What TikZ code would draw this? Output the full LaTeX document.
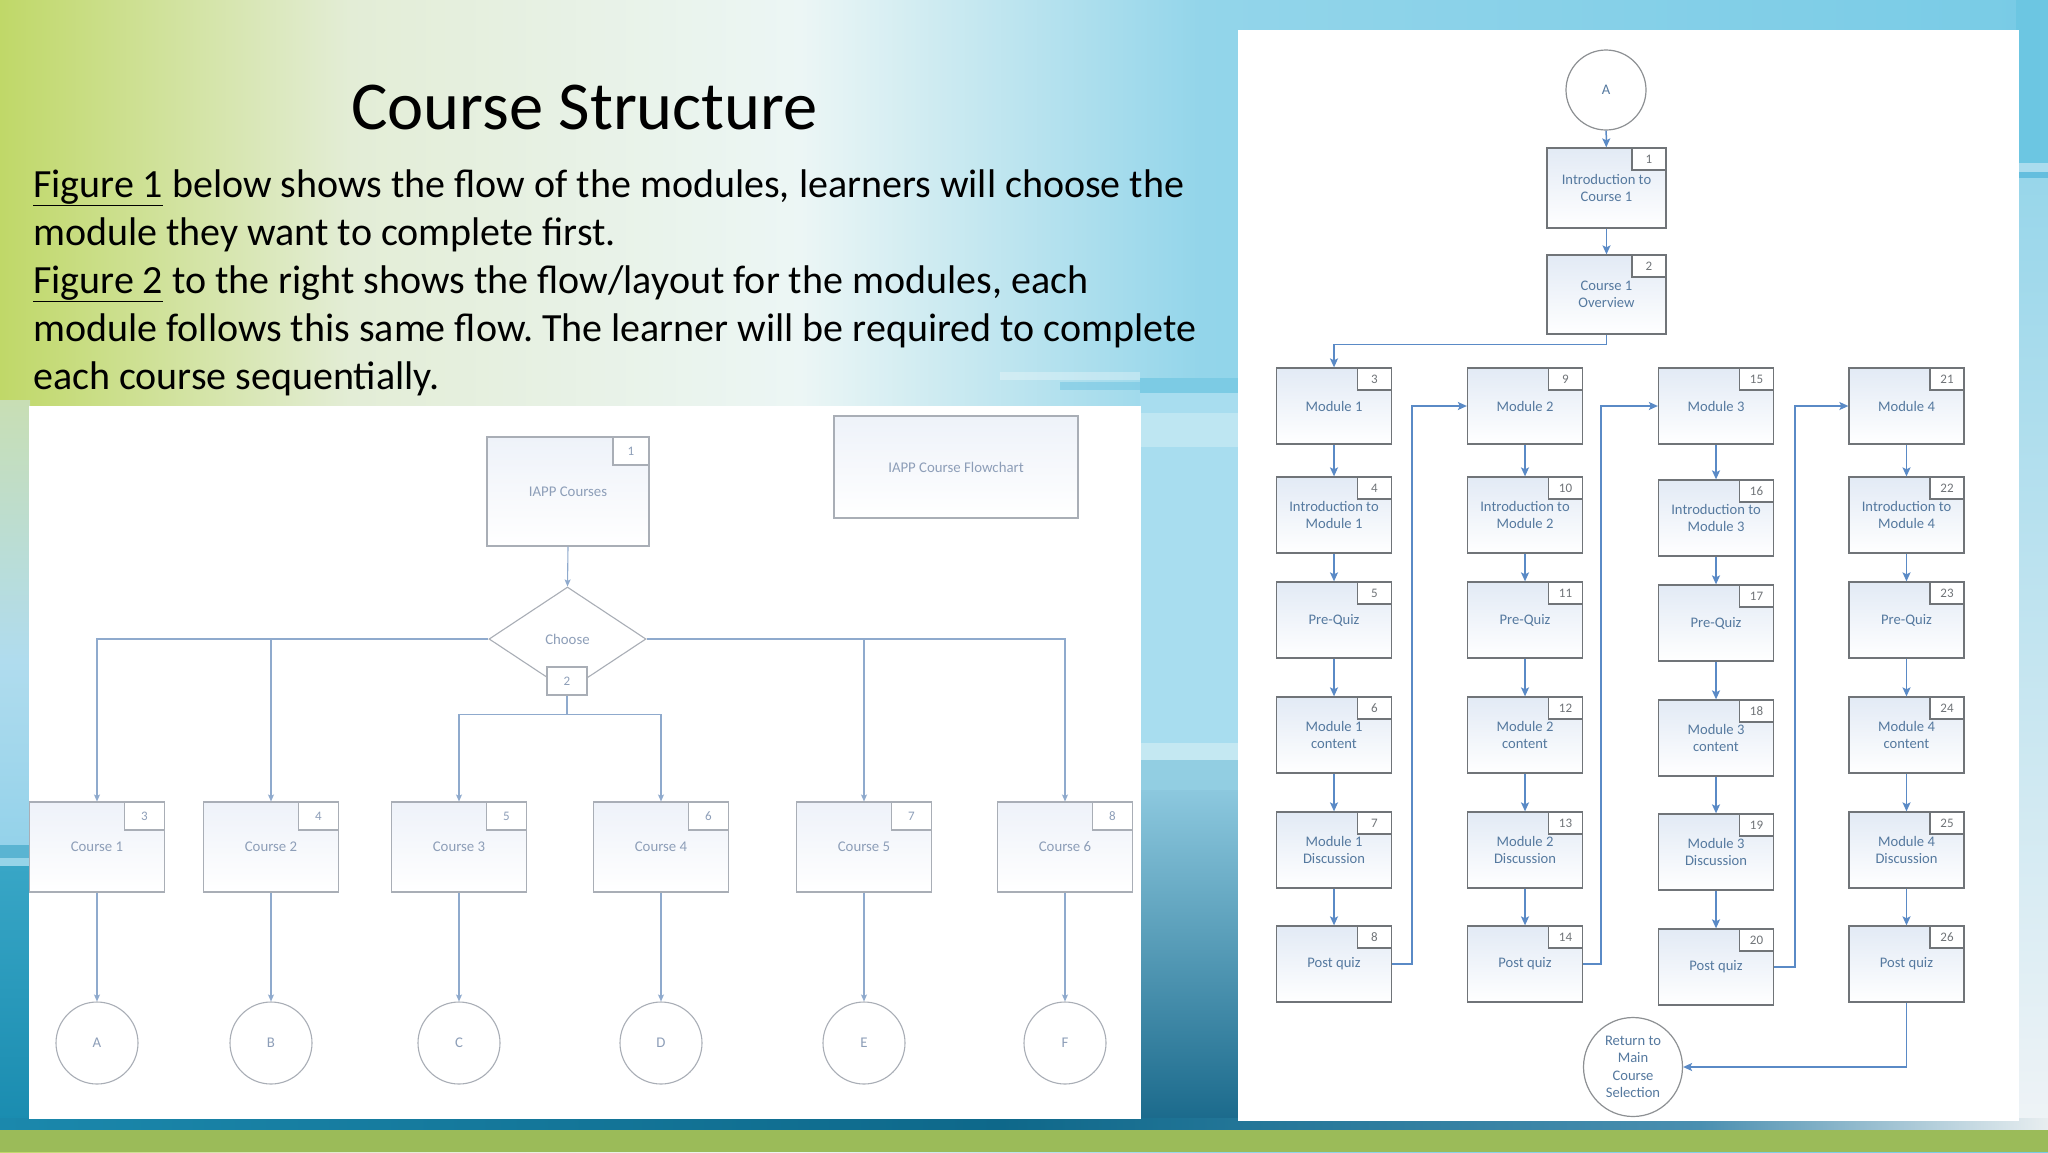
\documentclass[tikz,border=0pt]{standalone}
\usepackage{fontspec}
\setmainfont{Carlito}
\usetikzlibrary{arrows.meta,shapes.geometric,calc}
\frenchspacing
\definecolor{bgA}{HTML}{C0D868}
\definecolor{bgB}{HTML}{E3EDD6}
\definecolor{bgC}{HTML}{ECF6F5}
\definecolor{bgD}{HTML}{93D5EA}
\definecolor{bgE}{HTML}{78CBE6}
\definecolor{rgray}{HTML}{707478}
\definecolor{rtext}{HTML}{55799F}
\definecolor{rblue}{HTML}{5A8AC6}
\definecolor{rfill}{HTML}{E2EAF5}
\definecolor{lgray}{HTML}{A9AEB6}
\definecolor{ltext}{HTML}{8D9EB8}
\definecolor{lblue}{HTML}{8FAACD}
\definecolor{lfill}{HTML}{EEF2F9}
\definecolor{grn}{HTML}{9BBB59}
\definecolor{sA}{RGB}{200,222,180}
\definecolor{sB}{RGB}{176,220,238}
\definecolor{sC}{RGB}{148,210,234}
\definecolor{sD}{RGB}{90,180,210}
\definecolor{sE}{RGB}{150,212,232}
\definecolor{sF}{RGB}{56,166,198}
\definecolor{sG}{RGB}{26,140,176}
\definecolor{gA}{RGB}{124,203,228}
\definecolor{gB}{RGB}{190,230,242}
\definecolor{gC}{RGB}{168,221,239}
\definecolor{gD}{RGB}{196,232,242}
\definecolor{gE}{RGB}{146,206,226}
\definecolor{gF}{RGB}{140,200,222}
\definecolor{gG}{RGB}{27,106,140}
\definecolor{eA}{RGB}{108,198,226}
\definecolor{eB}{RGB}{170,220,238}
\definecolor{eC}{RGB}{100,190,222}
\definecolor{eD}{RGB}{152,214,234}
\definecolor{eE}{RGB}{238,243,246}
\definecolor{kA}{RGB}{27,136,172}
\definecolor{kB}{RGB}{14,104,138}
\definecolor{kC}{RGB}{74,143,176}
\definecolor{kD}{RGB}{232,238,240}
\definecolor{stB}{RGB}{110,196,226}
\newcommand\fR{\fontsize{14.6pt}{17.5pt}\selectfont}
\newcommand\fL{\fontsize{14.8pt}{17pt}\selectfont}
\newcommand\fN{\fontsize{13pt}{15pt}\selectfont}
\newcommand\fB{\fontsize{40pt}{48pt}\selectfont}
\begin{document}
\begin{tikzpicture}[x=1pt,y=-1pt,
  rbox/.style={draw=rgray, line width=1.3pt, top color=rfill, bottom color=white, minimum width=115pt, minimum height=76pt, inner sep=0pt, align=center, font=\fR, text=rtext},
  rnum/.style={draw=rgray, line width=1.3pt, fill=white, minimum width=34pt, minimum height=22pt, inner sep=0pt, anchor=north east, font=\fN, text=rgray},
  rcirc/.style={circle, draw=rgray!80, line width=1.2pt, fill=white, minimum size=80pt, inner sep=0pt, align=center, font=\fR, text=rtext},
  rarr/.style={draw=rblue, line width=1.5pt, -{Stealth[length=9pt,width=8pt,inset=2pt]}},
  lbox/.style={draw=lgray, line width=1.1pt, top color=lfill, bottom color=white, minimum width=135pt, minimum height=90pt, inner sep=0pt, align=center, font=\fL, text=ltext},
  lnum/.style={draw=lgray, line width=1.1pt, fill=white, minimum width=40pt, minimum height=28pt, inner sep=0pt, anchor=north east, font=\fN, text=ltext},
  lcirc/.style={circle, draw=lgray, line width=1.1pt, fill=white, minimum size=82pt, inner sep=0pt, font=\fL, text=ltext},
  lline/.style={draw=lblue, line width=1.1pt},
  larr/.style={draw=lblue, line width=1.1pt, -{Stealth[length=7pt,width=6pt,inset=1.5pt]}},
  body/.style={anchor=base west, inner sep=0pt, font=\fB, text=black}]
\useasboundingbox (0,0) rectangle (2048,1152);
% ---------- background ----------
\shade[left color=bgA, right color=bgB] (0,0) rectangle (351,1152);
\shade[left color=bgB, right color=bgC] (350,0) rectangle (801,1152);
\shade[left color=bgC, right color=bgD] (800,0) rectangle (1201,1152);
\shade[left color=bgD, right color=bgE] (1200,0) rectangle (2048,1152);
% left strip
\shade[top color=sA, bottom color=sB] (0,400) rectangle (30,660);
\shade[top color=sB, bottom color=sC] (0,660) rectangle (30,845);
\fill[sD] (0,845) rectangle (30,858);
\fill[sE] (0,858) rectangle (30,866);
\shade[top color=sF, bottom color=sG] (0,866) rectangle (30,1120);
% gap strip
\fill[gA] (1140,378) rectangle (1240,393);
\fill[gC] (1140,393) rectangle (1240,413);
\fill[gB] (1140,413) rectangle (1240,447);
\fill[gC] (1140,447) rectangle (1240,743);
\fill[gD] (1140,743) rectangle (1240,760);
\fill[gE] (1140,760) rectangle (1240,790);
\shade[top color=gF, bottom color=gG] (1140,790) rectangle (1240,1120);
% right strip
\fill[eA] (2016,0) rectangle (2048,163);
\fill[eB] (2016,163) rectangle (2048,172);
\fill[eC] (2016,172) rectangle (2048,178);
\shade[top color=eD, bottom color=eE] (2016,178) rectangle (2048,1120);
% streaks
\fill[white, opacity=0.3] (1000,372) rectangle (1140,380);
\fill[stB, opacity=0.5] (1060,382) rectangle (1140,390);
% bottom bands
\shade[left color=kA, right color=kB] (0,1118) rectangle (1001,1131);
\shade[left color=kB, right color=kC] (1000,1118) rectangle (1701,1131);
\shade[left color=kC, right color=kD] (1700,1118) rectangle (2048,1131);
\fill[grn] (0,1130) rectangle (2048,1152);
% panels
\fill[white] (29,406) rectangle (1141,1119);
\fill[white] (1238,30) rectangle (2019,1121);
% ---------- title and text ----------
\node[anchor=base, inner sep=0pt, font=\fontsize{68.5pt}{80pt}\selectfont] (title) at (584.5,129) {Course Structure};
\node[body] (t1) at (33,197) {\underline{Figure 1} below shows the flow of the modules, learners will choose the};
\node[body] (t2) at (33,245) {module they want to complete first.};
\node[body] (t3) at (33,293) {\underline{Figure 2} to the right shows the flow/layout for the modules, each};
\node[body] (t4) at (33,341) {module follows this same flow. The learner will be required to complete};
\node[body] (t5) at (33,389) {each course sequentially.};
% ---------- left flowchart ----------
\node[lbox, minimum width=162pt, minimum height=109pt] (iapp) at (568,491.5) {IAPP Courses};
\node[lnum, minimum width=36pt] (iappn) at (iapp.north east) {1};
\node[lbox, minimum width=244pt, minimum height=102pt] (ftitle) at (956,467) {IAPP Course Flowchart};
\node[diamond, aspect=1.5, draw=lgray, line width=1.1pt, fill=white, minimum width=157pt, minimum height=104pt, inner sep=0pt, font=\fL, text=ltext] (dia) at (567.5,639) {Choose};
\node[draw=lgray, line width=1.1pt, fill=white, minimum width=40pt, minimum height=28pt, inner sep=0pt, font=\fN, text=ltext] (n2) at (567,681) {2};
\draw[larr] (iapp.south) -- (dia.north);
\foreach \i/\x/\n/\L in {1/97/3/A, 2/271/4/B, 3/459/5/C, 4/661/6/D, 5/864/7/E, 6/1065/8/F}{
  \node[lbox] (co\i) at (\x,847) {Course \i};
  \node[lnum] (co\i n) at (co\i.north east) {\n};
  \node[lcirc] (ci\i) at (\x,1043) {\L};
  \draw[larr] (co\i) -- (ci\i);
}
\draw[larr] (dia.west) -| (co1.north);
\draw[larr] (dia.west -| co2.north) -- (co2.north);
\draw[larr] (dia.east) -| (co6.north);
\draw[larr] (dia.east -| co5.north) -- (co5.north);
\draw[lline] (n2.south) -- ++(0,19) coordinate (mj);
\draw[larr] (mj) -| (co3.north);
\draw[larr] (mj) -| (co4.north);
% ---------- right flowchart ----------
\node[rcirc] (A) at (1606,90) {A};
\node[rbox, minimum width=119pt, minimum height=80pt] (b1) at (1606.5,188) {Introduction to\\Course 1};
\node[rnum] (b1n) at (b1.north east) {1};
\node[rbox, minimum width=119pt, minimum height=79pt] (b2) at (1606.5,294.5) {Course 1\\Overview};
\node[rnum] (b2n) at (b2.north east) {2};
\draw[rarr] (A) -- (b1);
\draw[rarr] (b1) -- (b2);
\foreach \cc/\cx in {1/1334,2/1525,3/1716,4/1906.5}{
  \foreach \rr/\ry/\rya/\lab in {1/406/406/{Module \cc}, 2/515/518/{Introduction to\\Module \cc}, 3/620/623/{Pre-Quiz}, 4/735/738/{Module \cc\\content}, 5/850/852/{Module \cc\\Discussion}, 6/964/967/{Post quiz}}{
    \pgfmathtruncatemacro\num{3+6*(\cc-1)+\rr-1}
    \ifnum\cc=3 \def\yy{\rya}\else\def\yy{\ry}\fi
    \node[rbox] (c\cc r\rr) at (\cx,\yy) {\lab};
    \node[rnum] (c\cc r\rr n) at (c\cc r\rr.north east) {\num};
  }
  \foreach \rr in {1,...,5}{
    \pgfmathtruncatemacro\rn{\rr+1}
    \draw[rarr] (c\cc r\rr) -- (c\cc r\rn);
  }
}
\draw[rarr] (b2.south) -- ++(0,10) -| (c1r1.north);
\draw[rarr] (c1r6.east) -- ++(20,0) |- (c2r1.west);
\draw[rarr] (c2r6.east) -- ++(18,0) |- (c3r1.west);
\draw[rarr] (c3r6.east) -- ++(21,0) |- (c4r1.west);
\node[rcirc, minimum size=99pt] (ret) at (1633,1067) {Return to\\Main\\Course\\Selection};
\draw[rarr] (c4r6.south) |- (ret.east);
\end{tikzpicture}
\end{document}
